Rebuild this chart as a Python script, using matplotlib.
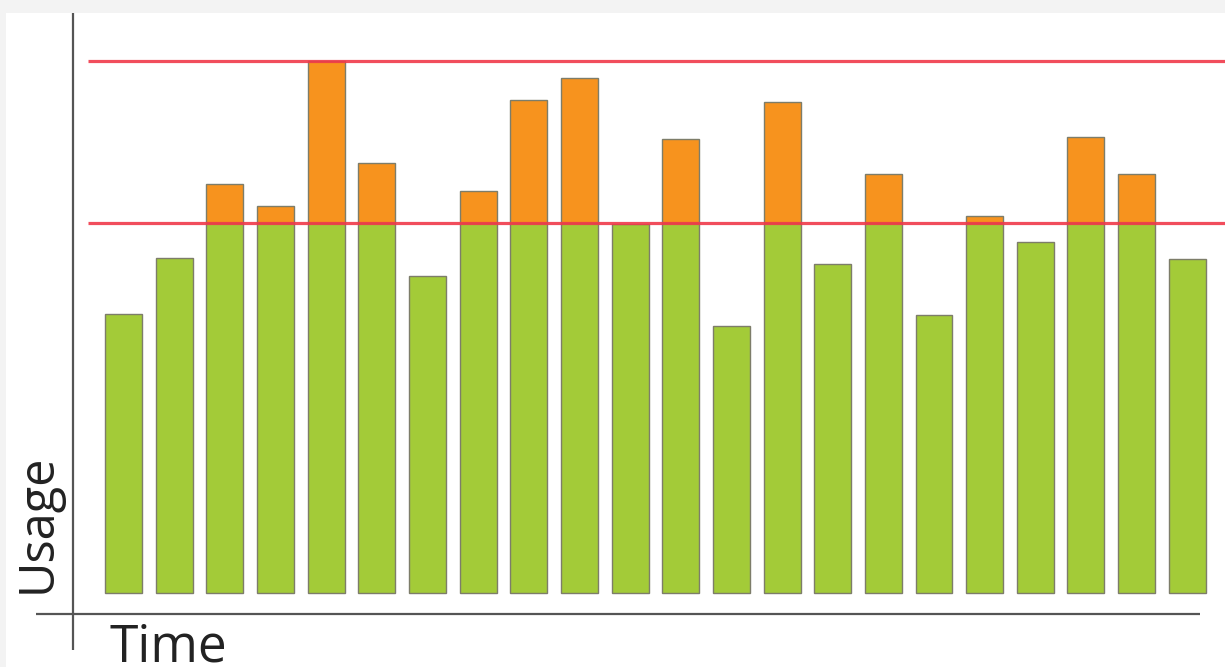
import matplotlib.pyplot as plt
from matplotlib.patches import Rectangle

# usage per time slot
slots = list(range(22))
usage = [279, 335, 409, 387, 532, 430, 317, 402, 493, 515, 369,
         454, 267, 491, 329, 419, 278, 377, 351, 456, 419, 334]
threshold_low = 370
threshold_high = 532

GREEN = "#a3cb38"
ORANGE = "#f7931e"
RED = "#f03a4a"
EDGE = "#7d7d6a"
AXIS = "#555555"


def main():
    fig = plt.figure(figsize=(12.25, 6.67), dpi=100, facecolor="#f3f3f3")

    ax = fig.add_axes((0, 0, 1, 1))
    ax.set_facecolor("none")
    ax.set_axis_off()
    ax.set_xlim(-2.44, 21.745)
    ax.set_ylim(-74.5, 592.5)

    # white panel behind the chart
    ax.add_patch(Rectangle((6 / 1225, 0), 1, 1 - 13 / 667,
                           transform=fig.transFigure, facecolor="white",
                           edgecolor="none", zorder=0))

    width = 0.73
    green = [min(v, threshold_low) for v in usage]
    over = [max(v - threshold_low, 0) for v in usage]

    ax.bar(slots, green, width=width, color=GREEN, edgecolor=EDGE,
           linewidth=1.0, zorder=2)
    xs = [s for s, o in zip(slots, over) if o > 0]
    os_ = [o for o in over if o > 0]
    ax.bar(xs, os_, width=width, bottom=threshold_low, color=ORANGE,
           edgecolor=EDGE, linewidth=1.0, zorder=2)

    # limit lines
    ax.hlines([threshold_low, threshold_high], -0.70, 21.745,
              colors=RED, linewidth=2.3, alpha=0.9, zorder=3)

    # hand drawn axes
    ax.plot([-1.0, -1.0], [579.5, -57.5], color=AXIS, linewidth=1.6,
            zorder=3, solid_capstyle="butt")
    ax.plot([-1.73, 21.25], [-21.5, -21.5], color=AXIS, linewidth=1.6,
            zorder=3, solid_capstyle="butt")

    fig.text(38 / 1225, 1 - 523 / 667, "Usage", rotation=90, ha="center",
             va="center", fontsize=35, color="#222222",
             family=["Open Sans", "DejaVu Sans"])
    fig.text(109 / 1225, 1 - 661 / 667, "Time", ha="left", va="baseline",
             fontsize=37, color="#222222",
             family=["Open Sans", "DejaVu Sans"])

    fig.savefig("out.png", dpi=100, facecolor=fig.get_facecolor())


if __name__ == "__main__":
    main()
